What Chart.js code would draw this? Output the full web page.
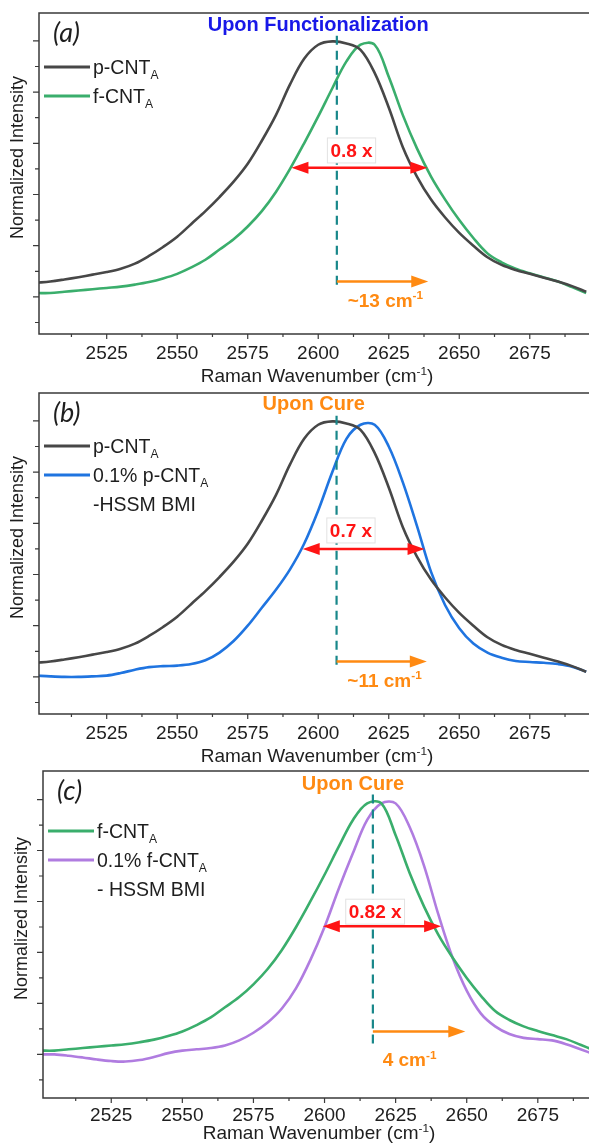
<!DOCTYPE html>
<html>
<head>
<meta charset="utf-8">
<script src="https://cdn.jsdelivr.net/npm/chart.js@4"></script>
<style>
  html, body { margin: 0; padding: 0; background: #fff; }
  #wrap { position: relative; width: 589px; height: 1145px; overflow: hidden; }
  canvas { position: absolute; left: 0; }
</style>
</head>
<body>
<div id="wrap">
  <canvas id="panelA" width="589" height="392" style="top:0px"></canvas>
  <canvas id="panelB" width="589" height="392" style="top:380px"></canvas>
  <canvas id="panelC" width="589" height="385" style="top:760px"></canvas>
</div>
<script>
// Raman 2D band, normalized, three comparisons
const wavenumber = [2500, 2505, 2510, 2515, 2520, 2525, 2530, 2535, 2540, 2545,
  2550, 2555, 2560, 2565, 2570, 2575, 2580, 2585, 2590, 2595,
  2600, 2605, 2610, 2615, 2620, 2625, 2630, 2635, 2640, 2645,
  2650, 2655, 2660, 2665, 2670, 2675, 2680, 2685, 2690, 2695];

const pCntA = [0.055, 0.06, 0.068, 0.077, 0.087, 0.097, 0.11, 0.13, 0.16, 0.195,
  0.235, 0.285, 0.335, 0.39, 0.45, 0.52, 0.61, 0.71, 0.83, 0.93,
  0.985, 0.998, 0.99, 0.965, 0.875, 0.74, 0.585, 0.47, 0.38, 0.31,
  0.25, 0.2, 0.155, 0.125, 0.105, 0.09, 0.075, 0.06, 0.042, 0.02];

const fCntA = [0.015, 0.015, 0.02, 0.025, 0.03, 0.035, 0.04, 0.048, 0.058, 0.072,
  0.09, 0.115, 0.145, 0.185, 0.225, 0.275, 0.335, 0.41, 0.50, 0.60,
  0.705, 0.815, 0.92, 0.985, 0.985, 0.86, 0.71, 0.58, 0.47, 0.38,
  0.30, 0.23, 0.17, 0.135, 0.11, 0.092, 0.076, 0.06, 0.038, 0.015];

const pCntABmi = [0.005, 0.002, 0.0, 0.0, 0.002, 0.005, 0.015, 0.028, 0.038, 0.042,
  0.044, 0.05, 0.065, 0.095, 0.14, 0.20, 0.27, 0.34, 0.42, 0.52,
  0.65, 0.80, 0.93, 0.985, 0.985, 0.90, 0.76, 0.59, 0.41, 0.28,
  0.19, 0.13, 0.095, 0.075, 0.062, 0.058, 0.055, 0.05, 0.04, 0.02];

const fCntABmi = [0.0, 0.0, -0.005, -0.012, -0.02, -0.026, -0.028, -0.022, -0.01, 0.005,
  0.015, 0.02, 0.025, 0.035, 0.055, 0.085, 0.125, 0.18, 0.26, 0.37,
  0.50, 0.65, 0.79, 0.92, 0.985, 0.985, 0.89, 0.74, 0.55, 0.38,
  0.25, 0.16, 0.11, 0.08, 0.065, 0.06, 0.055, 0.04, 0.02, 0.0];

const xTicks = [2525, 2550, 2575, 2600, 2625, 2650, 2675];
const xMinorTicks = [2512.5, 2537.5, 2562.5, 2587.5, 2612.5, 2637.5, 2662.5, 2687.5];
const yMajorTicks = [0, 0.2, 0.4, 0.6, 0.8, 1.0];
const yMinorTicks = [-0.1, 0.1, 0.3, 0.5, 0.7, 0.9];

const FAMILY = '"Liberation Sans", Arial, sans-serif';
const AXIS = '#3a3a3a';
const TEXT = '#1e1e1e';
const C_BLACK = '#474747';
const C_GREEN = '#3aae6c';
const C_BLUE = '#1f74e0';
const C_PURPLE = '#b07ce0';
const C_TEAL = '#18878a';
const C_RED = '#ff1414';
const C_ORANGE = '#ff8a12';

// text with _{sub} and ^{sup} parts
function drawRich(ctx, str, x, y, size, weight, color, align) {
  const parts = [];
  const re = /([_^])\{([^}]*)\}/g;
  let last = 0, m;
  while ((m = re.exec(str))) {
    if (m.index > last) parts.push({ t: str.slice(last, m.index), k: '' });
    parts.push({ t: m[2], k: m[1] });
    last = re.lastIndex;
  }
  if (last < str.length) parts.push({ t: str.slice(last), k: '' });
  const fontFor = k => `${weight} ${k ? size * 0.62 : size}px ${FAMILY}`;
  let total = 0;
  parts.forEach(p => { ctx.font = fontFor(p.k); p.w = ctx.measureText(p.t).width; total += p.w; });
  let cx = align === 'center' ? x - total / 2 : x;
  ctx.fillStyle = color;
  ctx.textBaseline = 'middle';
  ctx.textAlign = 'left';
  parts.forEach(p => {
    ctx.font = fontFor(p.k);
    const dy = p.k === '_' ? size * 0.34 : p.k === '^' ? -size * 0.3 : 0;
    ctx.fillText(p.t, cx, y + dy);
    cx += p.w;
  });
  return total;
}

function arrowHead(ctx, x, y, dir, color) {
  ctx.fillStyle = color;
  ctx.beginPath();
  ctx.moveTo(x, y);
  ctx.lineTo(x - dir * 17, y - 6);
  ctx.lineTo(x - dir * 17, y + 6);
  ctx.closePath();
  ctx.fill();
}

const panelDeco = {
  id: 'panelDeco',
  afterDatasetsDraw(chart, args, o) {
    const { ctx, scales: { x, y } } = chart;
    ctx.save();
    // peak reference line
    ctx.strokeStyle = C_TEAL;
    ctx.lineWidth = 2.2;
    ctx.setLineDash([9, 6]);
    ctx.beginPath();
    ctx.moveTo(x.getPixelForValue(o.dash.x), y.getPixelForValue(o.dash.from));
    ctx.lineTo(x.getPixelForValue(o.dash.x), y.getPixelForValue(o.dash.to));
    ctx.stroke();
    ctx.setLineDash([]);

    // FWHM double arrow
    const ry = y.getPixelForValue(o.fwhm.y);
    const r1 = x.getPixelForValue(o.fwhm.from), r2 = x.getPixelForValue(o.fwhm.to);
    ctx.strokeStyle = C_RED;
    ctx.lineWidth = 2.5;
    ctx.beginPath();
    ctx.moveTo(r1 + 10, ry);
    ctx.lineTo(r2 - 10, ry);
    ctx.stroke();
    arrowHead(ctx, r1, ry, -1, C_RED);
    arrowHead(ctx, r2, ry, 1, C_RED);

    // shift arrow
    const sy = y.getPixelForValue(o.shift.y);
    const s1 = x.getPixelForValue(o.shift.from), s2 = x.getPixelForValue(o.shift.to);
    ctx.strokeStyle = C_ORANGE;
    ctx.lineWidth = 2.5;
    ctx.beginPath();
    ctx.moveTo(s1, sy);
    ctx.lineTo(s2 - 10, sy);
    ctx.stroke();
    arrowHead(ctx, s2, sy, 1, C_ORANGE);

    // ratio label in a box
    const lx = x.getPixelForValue(o.ratio.x), ly = y.getPixelForValue(o.ratio.y);
    ctx.font = `bold 19px ${FAMILY}`;
    const tw = ctx.measureText(o.ratio.text).width;
    ctx.fillStyle = '#fff';
    ctx.fillRect(lx - tw / 2 - 3, ly - 12.5, tw + 6, 25);
    ctx.strokeStyle = '#e2e2e2';
    ctx.lineWidth = 1;
    ctx.strokeRect(lx - tw / 2 - 3, ly - 12.5, tw + 6, 25);
    drawRich(ctx, o.ratio.text, lx, ly + 1, 19, 'bold', C_RED, 'center');

    drawRich(ctx, o.shift.text, x.getPixelForValue(o.shift.tx), y.getPixelForValue(o.shift.ty),
      19, 'bold', C_ORANGE, 'center');
    drawRich(ctx, o.heading.text, x.getPixelForValue(o.heading.x), y.getPixelForValue(o.heading.y),
      20, 'bold', o.heading.color, 'center');
    ctx.restore();
  },
  afterDraw(chart, args, o) {
    const { ctx, chartArea: a, scales: { x, y } } = chart;
    ctx.save();
    // frame: left, top, bottom
    ctx.strokeStyle = AXIS;
    ctx.lineWidth = 1.5;
    ctx.beginPath();
    ctx.moveTo(a.right + 2, a.top);
    ctx.lineTo(a.left, a.top);
    ctx.lineTo(a.left, a.bottom);
    ctx.lineTo(a.right + 2, a.bottom);
    ctx.stroke();
    // tick marks
    ctx.lineWidth = 1.2;
    ctx.beginPath();
    xTicks.forEach(v => { const p = x.getPixelForValue(v); ctx.moveTo(p, a.bottom); ctx.lineTo(p, a.bottom + 5); });
    xMinorTicks.forEach(v => { const p = x.getPixelForValue(v); ctx.moveTo(p, a.bottom); ctx.lineTo(p, a.bottom + 3); });
    yMajorTicks.forEach(v => { const p = y.getPixelForValue(v); ctx.moveTo(a.left - 6, p); ctx.lineTo(a.left, p); });
    yMinorTicks.forEach(v => { const p = y.getPixelForValue(v); ctx.moveTo(a.left - 4, p); ctx.lineTo(a.left, p); });
    ctx.stroke();

    // axis titles
    drawRich(ctx, 'Raman Wavenumber (cm^{-1})', (a.left + a.right) / 2 + 3, o.xTitleY, 19, 'normal', TEXT, 'center');
    ctx.save();
    ctx.translate(a.left - 21, (a.top + a.bottom) / 2 - 16);
    ctx.rotate(-Math.PI / 2);
    drawRich(ctx, 'Normalized Intensity', 0, 0, 18, 'normal', TEXT, 'center');
    ctx.restore();

    // panel letter
    ctx.font = `italic 27px Lato, "Open Sans", ${FAMILY}`;
    ctx.fillStyle = TEXT;
    ctx.textAlign = 'left';
    ctx.textBaseline = 'middle';
    ctx.fillText(o.letter, a.left + 14, a.top + 20);

    // legend
    chart.data.datasets.forEach((ds, i) => {
      const ly = a.top + o.legendTop + i * 29;
      ctx.strokeStyle = ds.borderColor;
      ctx.lineWidth = 3;
      ctx.beginPath();
      ctx.moveTo(a.left + 5, ly);
      ctx.lineTo(a.left + 51, ly);
      ctx.stroke();
      const lines = ds.label.split('\n');
      lines.forEach((t, j) => drawRich(ctx, t, a.left + 54, ly + 2 + j * 29, 19.5, 'normal', TEXT, 'left'));
    });
    ctx.restore();
  }
};

function makePanel(id, cfg) {
  return new Chart(document.getElementById(id), {
    type: 'line',
    data: {
      datasets: cfg.series.map(s => ({
        label: s.label,
        data: wavenumber.map((w, i) => ({ x: w, y: s.values[i] })),
        borderColor: s.color,
        borderWidth: 2.6,
        pointRadius: 0,
        tension: 0.35,
        fill: false
      }))
    },
    options: {
      responsive: false,
      animation: false,
      devicePixelRatio: 1,
      layout: { padding: { top: cfg.padTop, right: 0, bottom: 0, left: 0 } },
      plugins: {
        legend: { display: false },
        tooltip: { enabled: false },
        panelDeco: cfg.deco
      },
      scales: {
        x: {
          type: 'linear',
          min: cfg.xMin,
          max: cfg.xMax,
          afterFit: s => { s.height = cfg.xAxisH; },
          afterBuildTicks: s => { s.ticks = xTicks.map(v => ({ value: v })); },
          ticks: {
            font: { size: 19, family: FAMILY },
            color: TEXT,
            padding: cfg.tickPad,
            maxRotation: 0,
            autoSkip: false,
            callback: v => String(v)
          },
          grid: { display: false, drawTicks: false },
          border: { display: false }
        },
        y: {
          min: cfg.yMin,
          max: cfg.yMax,
          afterFit: s => { s.width = cfg.yAxisW; },
          ticks: { display: false },
          grid: { display: false, drawTicks: false },
          border: { display: false }
        }
      }
    },
    plugins: [panelDeco]
  });
}

makePanel('panelA', {
  series: [
    { label: 'p-CNT_{A}', values: pCntA, color: C_BLACK },
    { label: 'f-CNT_{A}', values: fCntA, color: C_GREEN }
  ],
  xMin: 2501, xMax: 2696, yMin: -0.145, yMax: 1.109,
  padTop: 13, xAxisH: 58, yAxisW: 39, tickPad: 8,
  deco: {
    letter: '(a)', legendTop: 54, xTitleY: 377,
    dash: { x: 2606.6, from: 1.02, to: 0.03 },
    fwhm: { from: 2590.5, to: 2638.7, y: 0.504 },
    ratio: { text: '0.8 x', x: 2611.8, y: 0.572 },
    shift: { from: 2606.6, to: 2639, y: 0.06, text: '~13 cm^{-1}', tx: 2623.8, ty: -0.018 },
    heading: { text: 'Upon Functionalization', x: 2600, y: 1.059, color: '#1818e8' }
  }
});

makePanel('panelB', {
  series: [
    { label: 'p-CNT_{A}', values: pCntA, color: C_BLACK },
    { label: '0.1% p-CNT_{A}\n-HSSM BMI', values: pCntABmi, color: C_BLUE }
  ],
  xMin: 2501, xMax: 2696, yMin: -0.145, yMax: 1.109,
  padTop: 13, xAxisH: 58, yAxisW: 39, tickPad: 8,
  deco: {
    letter: '(b)', legendTop: 53, xTitleY: 377,
    dash: { x: 2606.5, from: 1.02, to: 0.035 },
    fwhm: { from: 2594.5, to: 2637.7, y: 0.50 },
    ratio: { text: '0.7 x', x: 2611.6, y: 0.572 },
    shift: { from: 2606.5, to: 2638.5, y: 0.06, text: '~11 cm^{-1}', tx: 2623.5, ty: -0.018 },
    heading: { text: 'Upon Cure', x: 2598.4, y: 1.0625, color: C_ORANGE }
  }
});

makePanel('panelC', {
  series: [
    { label: 'f-CNT_{A}', values: fCntA, color: C_GREEN },
    { label: '0.1% f-CNT_{A}\n- HSSM BMI', values: fCntABmi, color: C_PURPLE }
  ],
  xMin: 2501, xMax: 2693, yMin: -0.171, yMax: 1.112,
  padTop: 11, xAxisH: 47, yAxisW: 43, tickPad: 6,
  deco: {
    letter: '(c)', legendTop: 60, xTitleY: 374,
    dash: { x: 2617, from: 1.02, to: 0.025 },
    fwhm: { from: 2599.4, to: 2641, y: 0.503 },
    ratio: { text: '0.82 x', x: 2617.8, y: 0.56 },
    shift: { from: 2617, to: 2649.5, y: 0.09, text: '4 cm^{-1}', tx: 2629.9, ty: -0.026 },
    heading: { text: 'Upon Cure', x: 2610, y: 1.06, color: C_ORANGE }
  }
});
</script>
</body>
</html>
